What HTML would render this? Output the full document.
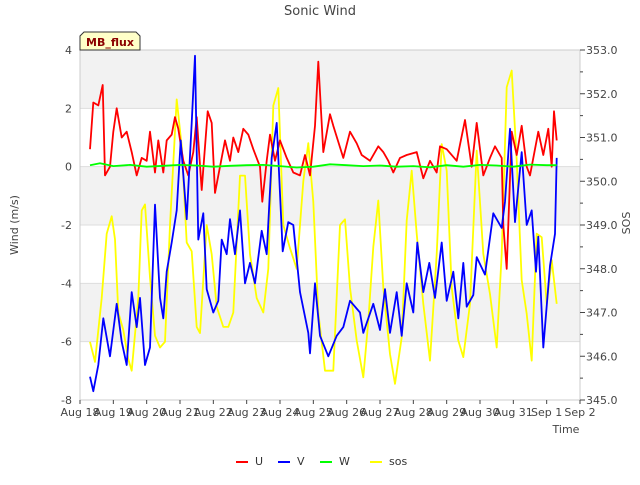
<!DOCTYPE html>
<html><head><meta charset="utf-8">
<style>
body{margin:0;background:#fff;font-family:"Liberation Sans","DejaVu Sans",sans-serif;}
svg text{font-family:"DejaVu Sans","Liberation Sans",sans-serif;}
</style></head>
<body>
<svg id="chart" width="640" height="480" viewBox="0 0 640 480" xmlns="http://www.w3.org/2000/svg">
<g id="bands"></g>
<g id="grid"></g>
<rect x="80" y="50" width="500" height="350" fill="none" stroke="#ccc"/>
<g id="series"></g>
<g id="axes"></g>
<text x="320" y="15" text-anchor="middle" font-size="13" fill="#444">Sonic Wind</text>
<text transform="translate(18,225) rotate(-90)" text-anchor="middle" font-size="11" fill="#444">Wind (m/s)</text>
<text transform="translate(630,223) rotate(-90)" text-anchor="middle" font-size="11" fill="#444">SOS</text>
<text x="566" y="433" text-anchor="middle" font-size="11" fill="#444">Time</text>
<g>
<path d="M80,50 L80,36 L84,32 L136,32 L140,36 L140,50 Z" fill="#ffffc8" stroke="#333" stroke-width="1"/>
<text x="110" y="46" text-anchor="middle" font-size="11" font-weight="bold" fill="#8b0000">MB_flux</text>
</g>
<g id="legend"></g>
</svg>
<script>
const uDays=[0.3,0.4,0.55,0.68,0.75,0.9,1.0,1.1,1.25,1.4,1.55,1.7,1.85,2.0,2.1,2.25,2.35,2.5,2.6,2.75,2.85,2.95,3.1,3.25,3.4,3.5,3.65,3.83,3.95,4.05,4.2,4.35,4.5,4.6,4.75,4.9,5.05,5.2,5.4,5.47,5.6,5.7,5.85,6.0,6.2,6.4,6.6,6.75,6.9,7.05,7.15,7.3,7.5,7.6,7.9,8.1,8.3,8.45,8.7,8.95,9.1,9.25,9.4,9.6,9.8,10.1,10.3,10.5,10.7,10.8,11.0,11.3,11.55,11.75,11.9,12.1,12.3,12.45,12.65,12.7,12.8,12.95,13.1,13.25,13.4,13.5,13.75,13.9,14.05,14.15,14.22,14.3];
const uVals=[0.6,2.2,2.1,2.8,-0.3,0.0,1.2,2.0,1.0,1.2,0.5,-0.3,0.3,0.2,1.2,-0.2,0.9,-0.2,0.9,1.1,1.7,1.3,0.2,-0.3,0.5,1.7,-0.8,1.9,1.5,-0.9,0.0,0.9,0.2,1.0,0.5,1.3,1.1,0.6,0.0,-1.2,0.2,1.1,0.2,0.9,0.3,-0.2,-0.3,0.4,-0.3,1.4,3.6,0.5,1.8,1.4,0.3,1.2,0.8,0.4,0.2,0.7,0.5,0.2,-0.2,0.3,0.4,0.5,-0.4,0.2,-0.2,0.7,0.6,0.2,1.6,0.0,1.5,-0.3,0.3,0.7,0.3,-2.0,-3.5,1.2,0.4,1.4,0.0,-0.3,1.2,0.4,1.3,0.0,1.9,0.9];
const vDays=[0.3,0.4,0.55,0.7,0.9,1.1,1.25,1.4,1.55,1.7,1.8,1.95,2.1,2.25,2.4,2.5,2.6,2.75,2.9,3.02,3.2,3.35,3.45,3.55,3.7,3.8,4.0,4.15,4.25,4.4,4.5,4.65,4.8,4.95,5.1,5.25,5.45,5.6,5.75,5.9,6.08,6.25,6.4,6.6,6.85,6.9,7.05,7.2,7.45,7.7,7.9,8.1,8.4,8.5,8.8,9.0,9.15,9.3,9.5,9.65,9.8,10.0,10.12,10.3,10.48,10.65,10.85,11.0,11.2,11.35,11.5,11.6,11.8,11.9,12.15,12.4,12.65,12.75,12.9,13.05,13.25,13.4,13.55,13.68,13.75,13.9,14.1,14.25,14.3];
const vVals=[-7.2,-7.7,-6.8,-5.2,-6.5,-4.7,-6.0,-6.8,-4.3,-5.5,-4.5,-6.8,-6.2,-1.3,-4.5,-5.2,-3.6,-2.6,-1.5,0.9,-1.8,1.5,3.8,-2.5,-1.6,-4.2,-5.0,-4.6,-2.5,-3.0,-1.8,-3.0,-1.5,-4.0,-3.3,-4.0,-2.2,-3.0,0.3,1.5,-2.9,-1.9,-2.0,-4.3,-5.7,-6.4,-4.0,-5.8,-6.5,-5.8,-5.5,-4.6,-5.0,-5.7,-4.7,-5.6,-4.2,-5.7,-4.3,-5.8,-4.0,-5.0,-2.6,-4.3,-3.3,-4.5,-2.6,-4.6,-3.6,-5.2,-3.3,-4.8,-4.4,-3.1,-3.7,-1.6,-2.1,-1.2,1.3,-1.9,0.5,-2.0,-1.5,-3.6,-2.4,-6.2,-3.4,-2.3,0.3];
const wDays=[0.3,0.6,1.0,1.5,2.0,2.5,3.0,3.5,4.0,4.5,5.0,5.5,6.0,6.5,7.0,7.5,8.0,8.5,9.0,9.5,10.0,10.5,11.0,11.5,12.0,12.5,13.0,13.5,14.0,14.3];
const wVals=[0.05,0.12,0.02,0.06,0.0,0.03,0.06,0.04,0.0,0.03,0.05,0.06,0.02,-0.03,0.0,0.08,0.05,0.02,0.04,0.0,0.02,-0.02,0.05,0.0,0.06,0.04,0.0,0.07,0.05,0.05];
const sDays=[0.3,0.45,0.65,0.8,0.95,1.05,1.15,1.3,1.45,1.55,1.75,1.85,1.95,2.1,2.25,2.4,2.55,2.7,2.9,3.05,3.2,3.35,3.5,3.6,3.8,3.95,4.1,4.3,4.45,4.6,4.8,4.95,5.1,5.3,5.5,5.65,5.8,5.95,6.1,6.3,6.5,6.7,6.85,7.0,7.15,7.35,7.6,7.8,7.95,8.1,8.3,8.5,8.65,8.8,8.95,9.1,9.3,9.45,9.65,9.8,9.95,10.1,10.3,10.5,10.7,10.85,11.0,11.15,11.35,11.5,11.7,11.9,12.1,12.3,12.5,12.65,12.8,12.95,13.1,13.25,13.4,13.55,13.7,13.85,14.0,14.15,14.3];
const sVals=[346.33,345.87,347.33,348.8,349.2,348.67,347.0,346.6,345.93,345.67,347.33,349.33,349.47,347.8,346.47,346.2,346.33,349.0,351.87,350.8,348.6,348.4,346.67,346.53,349.0,348.33,347.13,346.67,346.67,347.0,350.13,350.13,348.33,347.33,347.0,348.0,351.73,352.13,349.0,348.47,348.0,350.0,350.87,349.53,347.0,345.67,345.67,349.0,349.13,347.57,346.36,345.52,346.8,348.5,349.56,347.57,346.05,345.37,346.43,349.1,350.24,348.8,347.2,345.9,348.34,350.85,350.24,347.57,346.36,345.98,347.2,350.7,348.34,347.42,346.2,348.34,352.15,352.53,350.48,347.74,346.97,345.9,348.8,348.72,347.2,348.2,347.2];
const yTicks=[4,2,0,-2,-4,-6,-8];
const y2Ticks=[345,346,347,348,349,350,351,352,353];
const xLabels=["Aug 18","Aug 19","Aug 20","Aug 21","Aug 22","Aug 23","Aug 24","Aug 25","Aug 26","Aug 27","Aug 28","Aug 29","Aug 30","Aug 31","Sep 1","Sep 2"];

const NS="http://www.w3.org/2000/svg";
const L=80,R=580,T=50,B=400;
const xS=d=>L+(R-L)*d/15;
const yS=v=>T+(B-T)*(4-v)/12;
const y2S=v=>T+(B-T)*(353-v)/8;
function mk(tag,attrs,parent){const e=document.createElementNS(NS,tag);for(const k in attrs)e.setAttribute(k,attrs[k]);parent.appendChild(e);return e;}
const bands=document.getElementById('bands'),grid=document.getElementById('grid'),axes=document.getElementById('axes'),series=document.getElementById('series'),legend=document.getElementById('legend');
[[4,2],[0,-2],[-4,-6]].forEach(b=>{const r=mk('rect',{x:L,y:yS(b[0]),width:R-L,height:yS(b[1])-yS(b[0]),fill:'#f2f2f2'},bands);

});
yTicks.forEach(v=>{const l=mk('line',{x1:L,x2:R,y1:yS(v),y2:yS(v),stroke:'#ddd'},grid);


const t=mk('text',{x:L-8,y:yS(v)+4,'text-anchor':'end','font-size':'11',fill:'#444'},axes);t.textContent=v;

});
y2Ticks.forEach(v=>{const y=y2S(v);mk('line',{x1:R,x2:R+5,y1:y,y2:y,stroke:'#444'},axes);
const t=mk('text',{x:R+6,y:y+4,'font-size':'11',fill:'#444'},axes);t.textContent=v.toFixed(1);


if(v<353){const y5=y2S(v+0.5);mk('line',{x1:R,x2:R+3,y1:y5,y2:y5,stroke:'#444'},axes);}});
xLabels.forEach((s,i)=>{const x=xS(i);mk('line',{x1:x,x2:x,y1:B,y2:B+4,stroke:'#444'},axes);
const t=mk('text',{x:x,y:B+16,'text-anchor':'middle','font-size':'11',fill:'#444'},axes);t.textContent=s;

});
function line(days,vals,sc,color,name){const p=days.map((d,i)=>xS(d).toFixed(1)+','+sc(vals[i]).toFixed(1)).join(' ');
const e=mk('polyline',{points:p,fill:'none',stroke:color,'stroke-width':'1.8','stroke-linejoin':'round'},series);

}
line(sDays,sVals,y2S,'#ffff00','sos-line');
line(uDays,uVals,yS,'#ff0000','u-line');
line(vDays,vVals,yS,'#0000ff','v-line');
line(wDays,wVals,yS,'#00ff00','w-line');
[['U','#ff0000',236],['V','#0000ff',278],['W','#00ff00',320],['sos','#ffff00',370]].forEach(a=>{
const g=mk('g',{},legend);


mk('line',{x1:a[2],x2:a[2]+12,y1:462,y2:462,stroke:a[1],'stroke-width':'2'},g);
const t=mk('text',{x:a[2]+19,y:465,'font-size':'11',fill:'#333'},g);t.textContent=a[0];});
</script>
</body></html>
